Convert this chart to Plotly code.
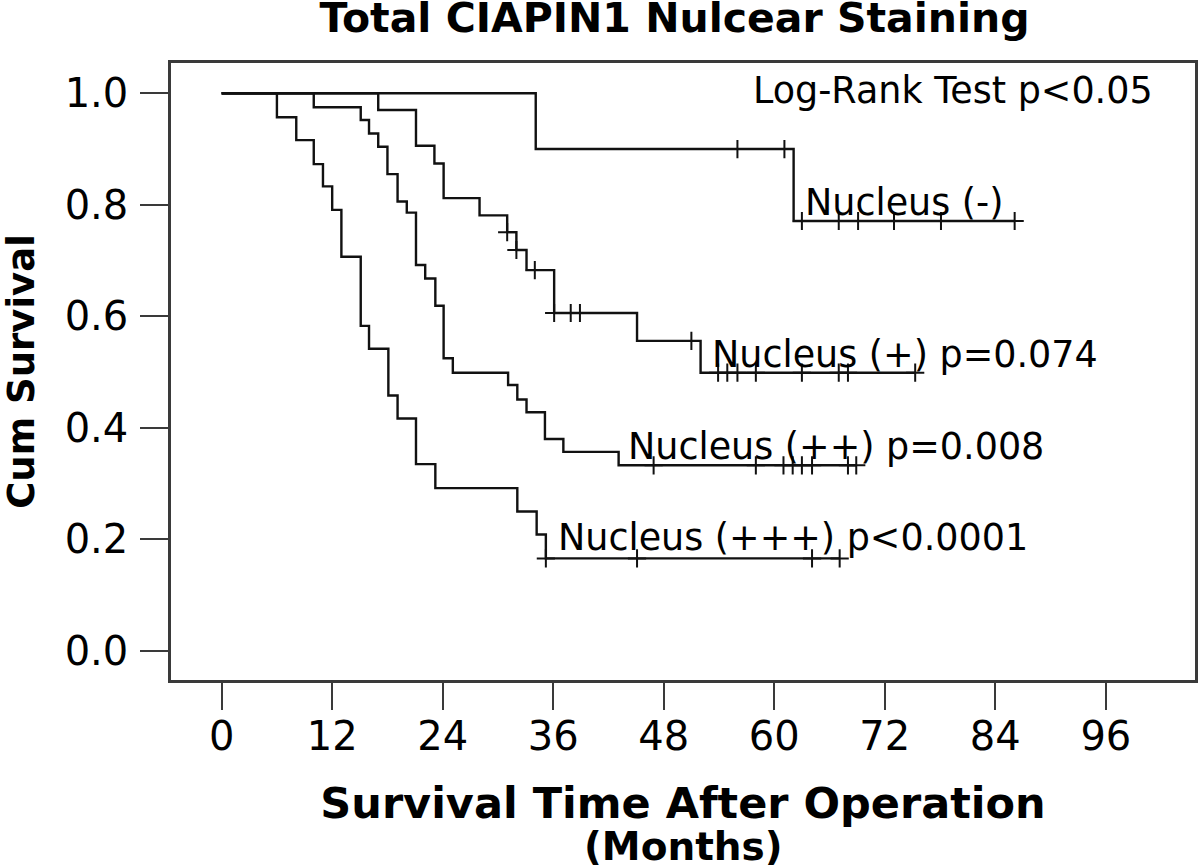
import plotly.graph_objects as go

# ---------------- data ----------------
x_ticks = [0, 12, 24, 36, 48, 60, 72, 84, 96]
y_ticks = [0.0, 0.2, 0.4, 0.6, 0.8, 1.0]

# Nucleus (-)
neg_event_t = [34.1, 62.1]
neg_event_s = [0.900, 0.771]
neg_cens_t = [56.0, 61.1, 63.0, 67.0, 69.1, 73.0, 78.1, 86.1]

# Nucleus (+)
p1_event_t = [17.0, 21.1, 23.1, 24.1, 28.0, 31.0, 32.0, 33.1, 36.1, 45.1, 52.0]
p1_event_s = [0.970, 0.906, 0.874, 0.812, 0.781, 0.751, 0.719, 0.683, 0.606, 0.556, 0.499]
p1_cens_t = [31.0, 32.0, 34.0, 36.1, 37.9, 38.9, 51.0, 53.9, 54.9, 56.0, 58.0,
             63.0, 67.0, 68.0, 75.3]

# Nucleus (++)
p2_event_t = [10.0, 15.1, 16.0, 17.0, 18.0, 19.1, 20.1, 21.1, 22.1, 23.2, 24.1,
              25.1, 31.1, 32.1, 33.1, 35.1, 37.1, 43.1]
p2_event_s = [0.975, 0.952, 0.928, 0.904, 0.855, 0.806, 0.786, 0.692, 0.668, 0.619,
              0.525, 0.499, 0.477, 0.451, 0.428, 0.380, 0.357, 0.333]
p2_cens_t = [46.9, 58.0, 61.0, 62.0, 63.0, 64.1, 68.0, 68.9]

# Nucleus (+++)
p3_event_t = [6.0, 8.1, 10.0, 11.0, 12.0, 13.0, 15.1, 16.0, 18.1, 19.1, 21.1, 23.2,
              32.1, 34.2, 35.2]
p3_event_s = [0.957, 0.916, 0.873, 0.833, 0.791, 0.707, 0.583, 0.542, 0.458, 0.417,
              0.335, 0.292, 0.250, 0.209, 0.166]
p3_cens_t = [35.2, 45.1, 64.1, 67.1]

groups = [
    ("Nucleus (-)", neg_event_t, neg_event_s, neg_cens_t),
    ("Nucleus (+)", p1_event_t, p1_event_s, p1_cens_t),
    ("Nucleus (++)", p2_event_t, p2_event_s, p2_cens_t),
    ("Nucleus (+++)", p3_event_t, p3_event_s, p3_cens_t),
]

labels = [
    ("Log-Rank Test p<0.05", 57.5, 1.005),
    ("Nucleus (-)", 63.1, 0.805),
    ("Nucleus (+) p=0.074", 53.0, 0.532),
    ("Nucleus (++) p=0.008", 43.9, 0.366),
    ("Nucleus (+++) p<0.0001", 36.3, 0.203),
]

LINE = "#111111"
FRAME = "#3a3a3a"
FONT = "DejaVu Sans"

fig = go.Figure()


def step_value(ts, ss, t):
    v = 1.0
    for et, es in zip(ts, ss):
        if et <= t:
            v = es
    return v


for name, et, es, ct in groups:
    end = max([max(ct)] + et)
    xs = [0.0] + list(et) + [end]
    ys = [1.0] + list(es) + [es[-1]]
    fig.add_trace(go.Scatter(x=xs, y=ys, mode="lines", line_shape="hv",
                             line=dict(color=LINE, width=2.4), name=name,
                             showlegend=False, hoverinfo="skip"))
    cy = [step_value(et, es, c) for c in ct]
    fig.add_trace(go.Scatter(x=ct, y=cy, mode="markers", name=name + " censored",
                             marker=dict(symbol="cross-thin", size=13,
                                         line=dict(color=LINE, width=2)),
                             showlegend=False, hoverinfo="skip"))

for text, lx, ly in labels:
    fig.add_annotation(x=lx, y=ly, xref="x", yref="y", text=text, showarrow=False,
                       xanchor="left", yanchor="middle",
                       font=dict(family=FONT, size=36.5, color="#000000"))

fig.add_annotation(x=0.5, y=-0.2695, xref="paper", yref="paper",
                   text="<b>(Months)</b>", showarrow=False,
                   xanchor="center", yanchor="middle",
                   font=dict(family=FONT, size=39, color="#000000"))

fig.update_layout(
    width=1200, height=866,
    margin=dict(l=171, r=5, t=63, b=186),
    paper_bgcolor="white", plot_bgcolor="white",
    title=dict(text="<b>Total CIAPIN1 Nulcear Staining</b>",
               x=674.5 / 1200, xref="container", xanchor="center",
               y=1 - 18 / 866, yref="container", yanchor="middle",
               font=dict(family=FONT, size=41, color="#000000")),
    xaxis=dict(range=[-5.5, 105.68], tickvals=x_ticks, ticks="outside",
               ticklen=27, tickwidth=2, tickcolor=FRAME, automargin=False,
               showline=True, mirror=True, linecolor=FRAME, linewidth=2.5,
               showgrid=False, zeroline=False, ticklabelstandoff=-8,
               tickfont=dict(family=FONT, size=40, color="#000000"),
               title=dict(text="<b>Survival Time After Operation</b>", standoff=31,
                          font=dict(family=FONT, size=43, color="#000000"))),
    yaxis=dict(range=[-0.052, 1.0543], tickvals=y_ticks, tickformat=".1f",
               ticks="outside", ticklen=28, tickwidth=2, tickcolor=FRAME,
               automargin=False,
               showline=True, mirror=True, linecolor=FRAME, linewidth=2.5,
               showgrid=False, zeroline=False, ticklabelstandoff=4,
               tickfont=dict(family=FONT, size=40, color="#000000"),
               title=dict(text="<b>Cum Survival</b>", standoff=20,
                          font=dict(family=FONT, size=37, color="#000000"))),
)

# remove the default 8px page margin so the figure sits at the window's corner
fig.write_html("out.html", config={"displayModeBar": False},
               post_script="document.body.style.margin='0px';")
